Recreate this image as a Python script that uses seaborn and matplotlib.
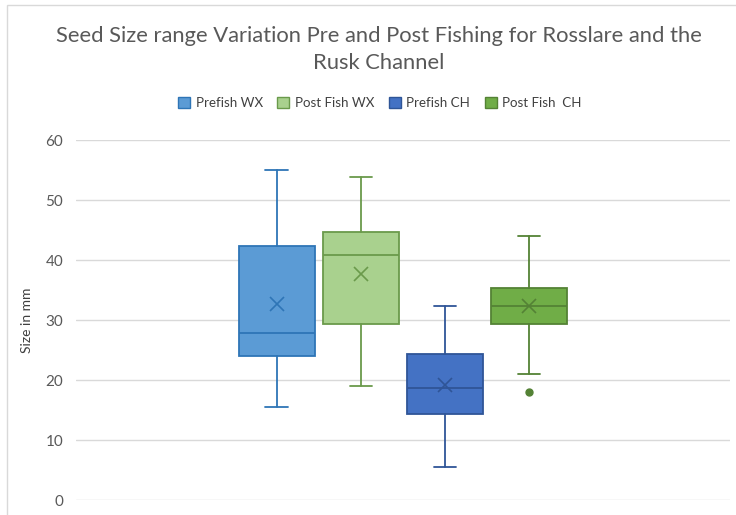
import matplotlib
matplotlib.use("Agg")
import matplotlib.pyplot as plt
from matplotlib.patches import Patch, Rectangle
import seaborn as sns

# five-number summaries (size in mm)
series = ["Prefish WX", "Post Fish WX", "Prefish CH", "Post Fish  CH"]
mins = [15.5, 19.0, 5.5, 21.0]
q1s = [24.0, 29.4, 14.3, 29.3]
medians = [27.9, 40.8, 18.6, 32.3]
q3s = [42.3, 44.7, 24.4, 35.3]
maxs = [55.0, 53.9, 32.3, 44.0]
means = [32.6, 37.7, 19.2, 32.3]
outliers = [[], [], [], [18.0]]

fills = ["#5B9BD5", "#A9D18E", "#4472C4", "#70AD47"]
edges = ["#2E75B6", "#6A9A4B", "#2F5597", "#548235"]

sns.set_theme(style="whitegrid")
plt.rcParams["font.family"] = ["Lato", "DejaVu Sans"]

fig = plt.figure(figsize=(7.36, 5.15), dpi=100)
ax = fig.add_axes([0.103, 0.029, 0.889, 0.699])

stats = []
for i, name in enumerate(series):
    stats.append({"label": name, "whislo": mins[i], "q1": q1s[i], "med": medians[i],
                  "q3": q3s[i], "whishi": maxs[i], "mean": means[i], "fliers": outliers[i]})

for i, st in enumerate(stats):
    c = edges[i]
    ax.bxp([st], positions=[i], widths=0.9, patch_artist=True, showmeans=True,
           boxprops=dict(facecolor=fills[i], edgecolor=c, linewidth=1.3),
           medianprops=dict(color=c, linewidth=1.3),
           whiskerprops=dict(color=c, linewidth=1.3),
           capprops=dict(color=c, linewidth=1.3),
           capwidths=0.27,
           meanprops=dict(marker="x", markeredgecolor=c, markersize=10, markeredgewidth=1.2),
           flierprops=dict(marker="o", markerfacecolor=c, markeredgecolor=c, markersize=5))

ax.set_xlim(-2.39, 5.39)
ax.set_ylim(0, 60)
ax.set_yticks(range(0, 61, 10))
ax.set_xticks([])
ax.grid(axis="y", color="#D9D9D9", linewidth=1)
ax.grid(axis="x", visible=False)
for s in ax.spines.values():
    s.set_visible(False)
ax.tick_params(axis="y", labelsize=11, labelcolor="#595959", length=0, pad=9)
ax.set_ylabel("Size in mm", fontsize=10, color="#404040", labelpad=9)

fig.text(0.515, 0.93, "Seed Size range Variation Pre and Post Fishing for Rosslare and the",
         ha="center", va="center", fontsize=15.8, color="#595959")
fig.text(0.515, 0.878, "Rusk Channel", ha="center", va="center", fontsize=15.8, color="#595959")

handles = [Patch(facecolor=fills[i], edgecolor=edges[i], label=series[i]) for i in range(4)]
fig.legend(handles=handles, loc="center", bbox_to_anchor=(0.516, 0.8), ncol=4, frameon=False,
           fontsize=9.6, handlelength=0.9, handleheight=0.9, handletextpad=0.4, columnspacing=1.1,
           labelcolor="#404040")

fig.patches.append(Rectangle((0.01, -0.05), 1.1, 1.04, transform=fig.transFigure, fill=False,
                             edgecolor="#D9D9D9", linewidth=1))

fig.savefig("out.png", dpi=100)
